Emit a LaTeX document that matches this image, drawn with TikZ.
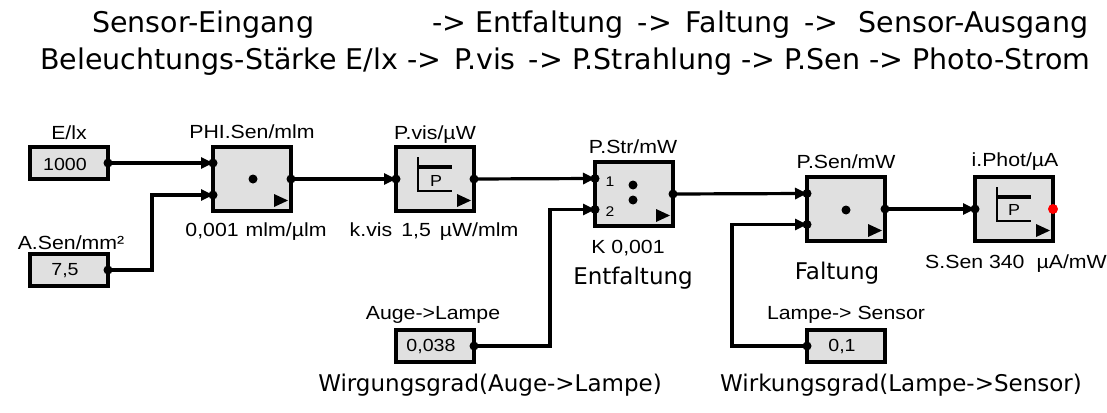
\documentclass[tikz,border=0pt]{standalone}
\usepackage{fontspec}
\setmainfont{Liberation Sans}[FakeStretch=1.12]
\newfontfamily\comic{DejaVu Sans}
\usetikzlibrary{arrows.meta}
\definecolor{blockfill}{gray}{0.88}
\tikzset{
  lbl/.style={font=\fontsize{19}{21}\selectfont, inner sep=0pt},
  val/.style={font=\fontsize{17.5}{19}\selectfont, inner sep=0pt},
  cst/.style={draw, line width=4pt, fill=blockfill, minimum width=78pt, minimum height=32pt, inner sep=0pt, outer sep=0pt},
  blk/.style={draw, line width=4pt, fill=blockfill, minimum width=78pt, minimum height=64pt, inner sep=0pt, outer sep=0pt},
  wire/.style={line width=3.2pt, -{Triangle[length=12pt,width=11pt]}},
  comictxt/.style={font=\comic\fontsize{23}{27}\selectfont, inner sep=0pt},
  titletxt/.style={font=\comic\fontsize{28.5}{32}\selectfont, inner sep=0pt, anchor=west},
}
\newcommand{\outtri}[1]{\fill ([shift={(-17pt,17pt)}]#1.south east) -- ++(0pt,-13pt) -- ++(14pt,6.5pt) -- cycle;}
\newcommand{\picon}[1]{%
  \draw[line width=2.4pt] ([shift={(-17pt,22pt)}]#1.center) -- ([shift={(-17pt,-12pt)}]#1.center) -- ([shift={(17pt,-12pt)}]#1.center);
  \draw[line width=3.5pt] ([shift={(-17pt,12pt)}]#1.center) -- ([shift={(17pt,12pt)}]#1.center);}
\begin{document}
\begin{tikzpicture}[x=1pt,y=-1pt]
\useasboundingbox[fill=white] (0,0) rectangle (1107,412);

% titles
\node[titletxt] (t1) at (92,25) {\makebox[996pt][l]{Sensor-Eingang\hfill-> Entfaltung\hspace{14pt}->\hspace{14pt}Faltung\hspace{14pt}->\hspace{20pt}Sensor-Ausgang}};
\node[titletxt] (t2) at (40,62) {\makebox[1050pt][s]{Beleuchtungs-Stärke E/lx ->\hspace{4pt} P.vis\hspace{4pt} -> P.Strahlung -> P.Sen -> Photo-Strom}};

% constant boxes
\node[cst] (cE) at (69,163) {};
\node[val] (vE) at (65,164) {1000};
\node[lbl] (lE) at (69,133) {E/lx};
\node[cst] (cA) at (69,270) {};
\node[val] (vA) at (65,271) {7,5};
\node[lbl] (lA) at (71,243) {A.Sen/mm²};
\node[cst] (cK) at (435,346) {};
\node[val] (vK) at (431,347) {0,038};
\node[lbl] (lK) at (433,315) {Auge->Lampe};
\node[cst] (cL) at (846,346) {};
\node[val] (vL) at (842,347) {0,1};
\node[lbl] (lL) at (846,315) {Lampe-> Sensor};

% blocks
\node[blk] (phi) at (252,179) {};
\node[lbl] (lphi) at (252,132) {PHI.Sen/mlm};
\node[lbl] (pphi) at (256,232) {0,001\hspace{7pt}mlm/µlm};
\fill (253,179) circle (4.5pt);
\outtri{phi}

\node[blk] (pvis) at (435,179) {};
\node[lbl] (lpvis) at (435,135) {P.vis/µW};
\node[lbl] (ppvis) at (434,232) {k.vis\hspace{9pt}1,5\hspace{9pt}µW/mlm};
\picon{pvis}
\node[font=\fontsize{16}{18}\selectfont, inner sep=0pt] (Pv) at (436,181) {P};
\outtri{pvis}

\node[blk] (pstr) at (634,194) {};
\node[lbl] (lpstr) at (633,147) {P.Str/mW};
\node[lbl] (ppstr) at (628,248) {K 0,001};
\node[comictxt] (ent) at (633,278) {Entfaltung};
\node[font=\fontsize{14}{16}\selectfont, inner sep=0pt] (n1) at (610,182) {1};
\node[font=\fontsize{14}{16}\selectfont, inner sep=0pt] (n2) at (610,212) {2};
\fill (633,185) circle (4.5pt);
\fill (633,200) circle (4.5pt);
\outtri{pstr}

\node[blk] (psen) at (846,209) {};
\node[lbl] (lpsen) at (846,162) {P.Sen/mW};
\node[comictxt] (falt) at (837,273) {Faltung};
\fill (846,210) circle (4.5pt);
\outtri{psen}

\node[blk] (iph) at (1014,209) {};
\node[lbl] (liph) at (1015,162) {i.Phot/µA};
\node[lbl, anchor=west] (piph) at (925,264) {S.Sen 340\hspace{12pt}µA/mW};
\picon{iph}
\node[font=\fontsize{16}{18}\selectfont, inner sep=0pt] (Pi) at (1014,210) {P};
\outtri{iph}

% bottom comic labels
\node[comictxt] (w1) at (490,385) {Wirgungsgrad(Auge->Lampe)};
\node[comictxt] (w2) at (901,385) {Wirkungsgrad(Lampe->Sensor)};

% wires
\draw[wire] (cE.east) -- ([yshift=16pt]phi.west);
\draw[wire] (cA.east) -- ++(44pt,0pt) |- ([yshift=-16pt]phi.west);
\draw[wire] (phi.east) -- (pvis.west);
\draw[wire] (pvis.east) -- ([yshift=15.5pt]pstr.west);
\draw[wire] (cK.east) -- ++(76pt,0pt) |- ([yshift=-15.5pt]pstr.west);
\draw[wire] (pstr.east) -- ([yshift=15.5pt]psen.west);
\draw[wire] (cL.west) -- ++(-75pt,0pt) |- ([yshift=-15.5pt]psen.west);
\draw[wire] (psen.east) -- (iph.west);

% port dots
\foreach \p in {cE.east, cA.east, cK.east, cL.west, phi.east, pvis.west, pvis.east, pstr.east, psen.east, iph.west}
  \fill (\p) circle (4.5pt);
\fill ([yshift=16pt]phi.west) circle (4.5pt);
\fill ([yshift=-16pt]phi.west) circle (4.5pt);
\fill ([yshift=15.5pt]pstr.west) circle (4.5pt);
\fill ([yshift=-15.5pt]pstr.west) circle (4.5pt);
\fill ([yshift=15.5pt]psen.west) circle (4.5pt);
\fill ([yshift=-15.5pt]psen.west) circle (4.5pt);
\fill[red] (iph.east) circle (5pt);
\end{tikzpicture}
\end{document}
